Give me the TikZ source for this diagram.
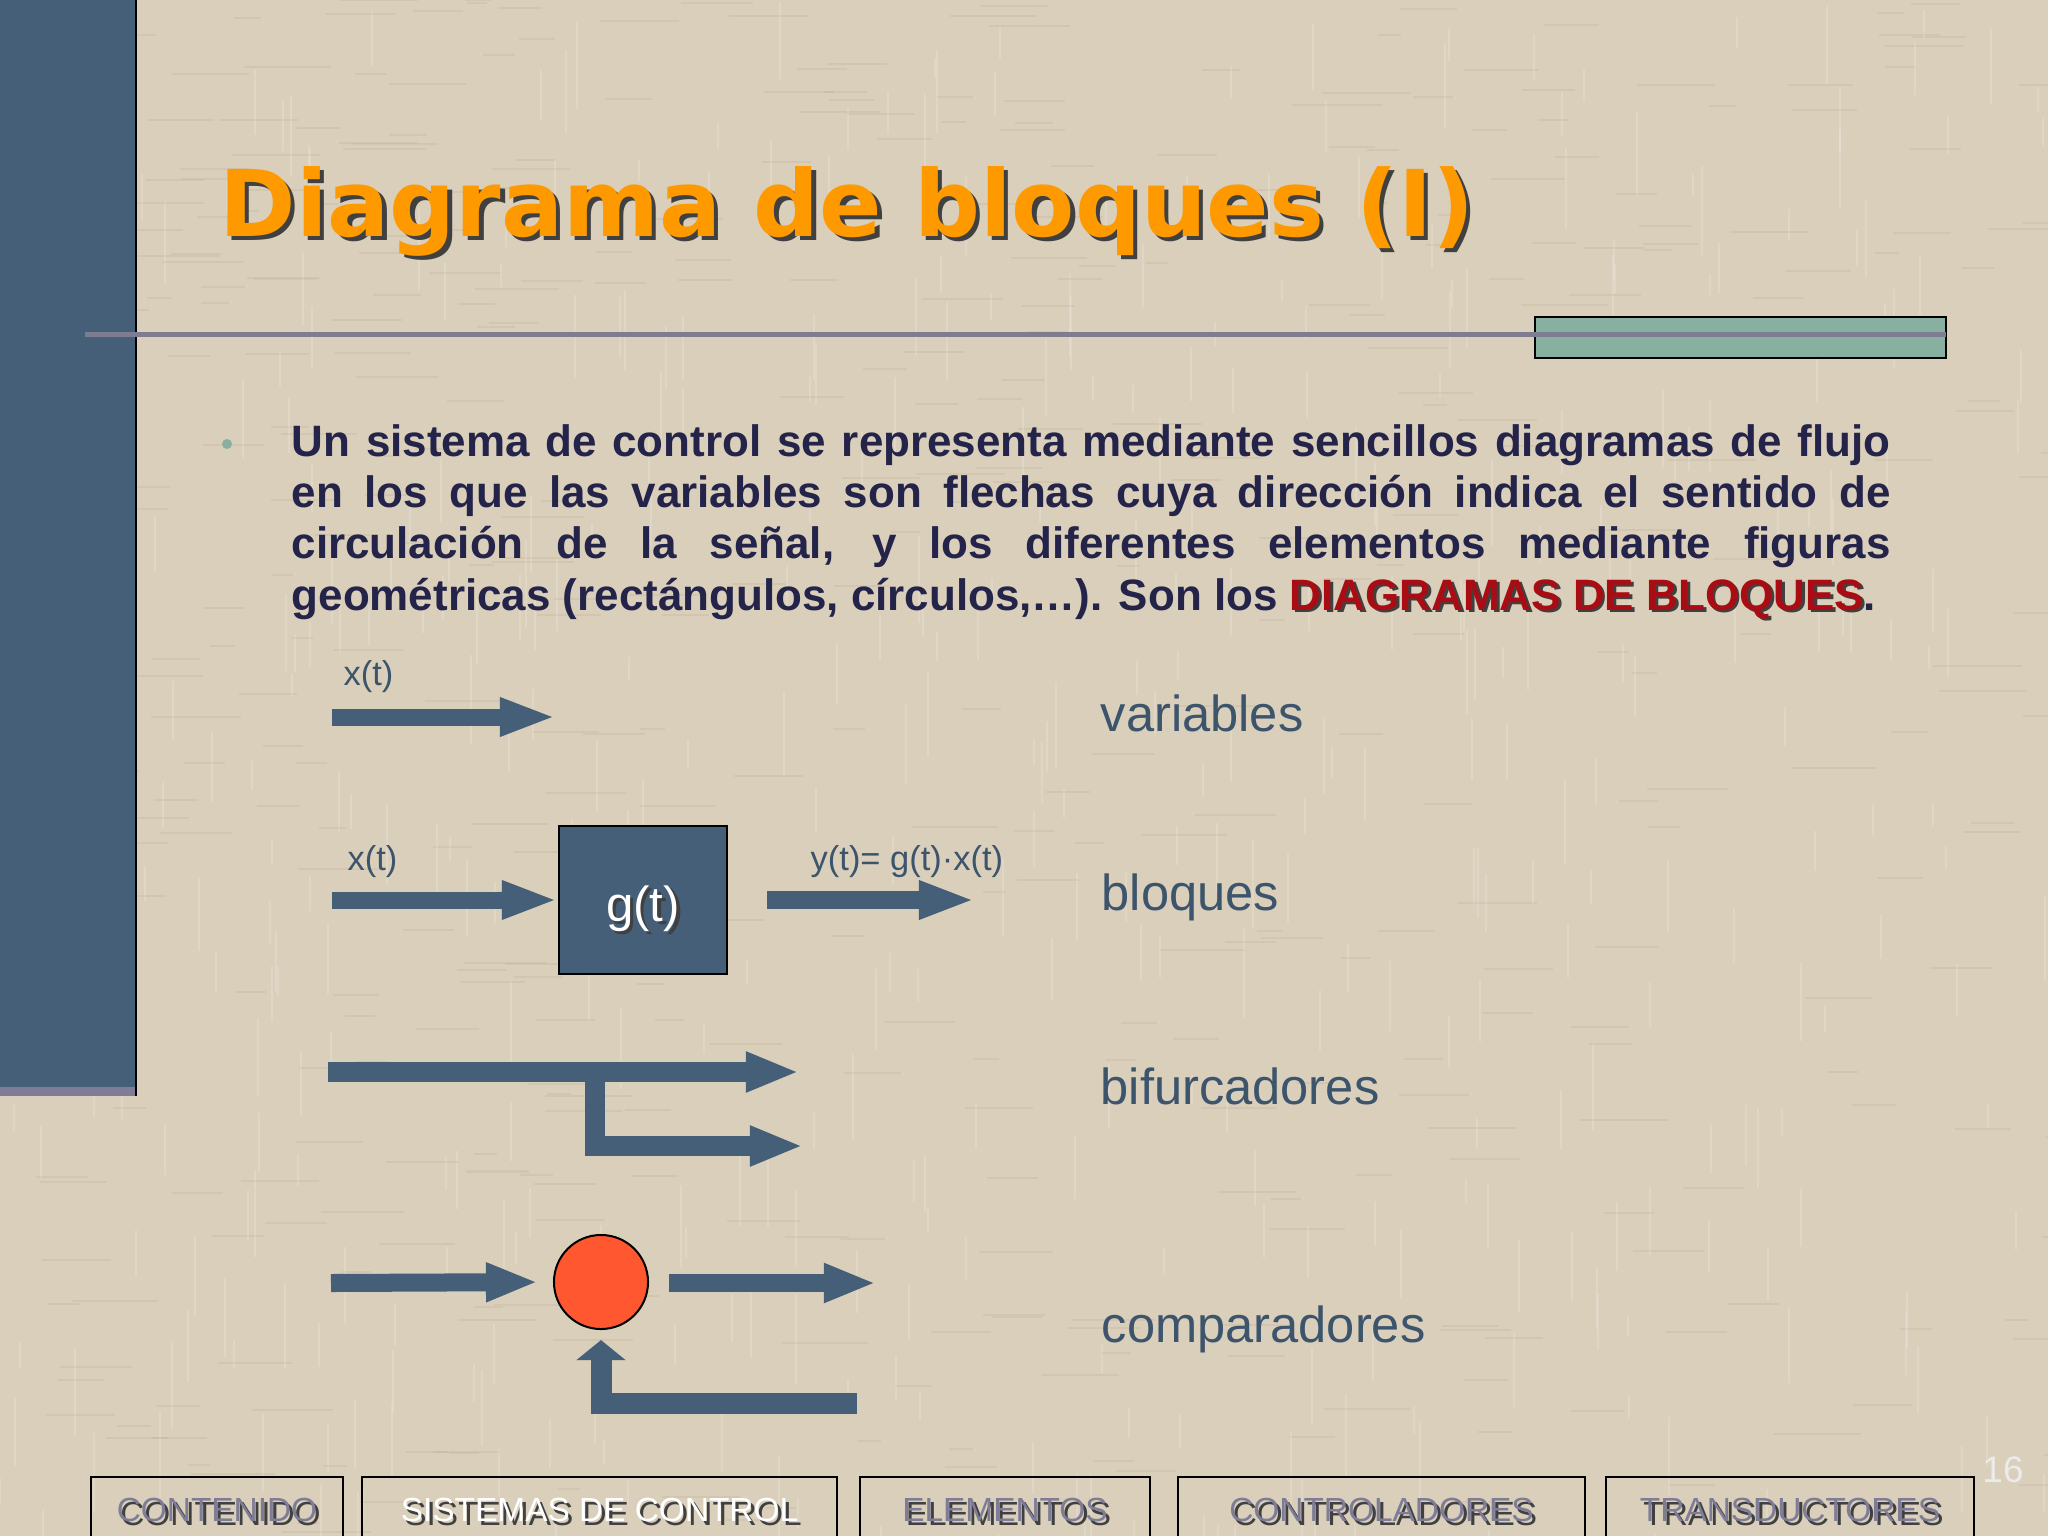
\documentclass[tikz,border=0pt]{standalone}
\usepackage{fontspec}
\setmainfont{Liberation Sans}
\newfontfamily\titlefont{DejaVu Sans}
\usetikzlibrary{arrows.meta,positioning}
\definecolor{fondo}{RGB}{218,207,186}
\definecolor{pizarra}{RGB}{69,95,120}
\definecolor{malva}{RGB}{126,124,150}
\definecolor{salvia}{RGB}{136,176,160}
\definecolor{regla}{RGB}{125,124,145}
\definecolor{naranja}{RGB}{255,153,0}
\definecolor{tinta}{RGB}{36,36,74}
\definecolor{granate}{RGB}{170,12,20}
\definecolor{azultexto}{RGB}{60,84,108}
\definecolor{rojo}{RGB}{255,88,48}
\definecolor{trama}{RGB}{160,145,120}
\newcommand{\sombra}[3]{\makebox[0pt][l]{\kern#1\raisebox{-#1}{\textcolor{black!75}{#3}}}\textcolor{#2}{#3}}
\tikzset{
  senal/.style={draw=pizarra, line width=0.18cm, -{Triangle[length=0.56cm,width=0.35cm]}},
  bloque/.style={draw=black, line width=0.02cm, fill=pizarra, minimum width=1.68cm, minimum height=1.47cm,
    text height=0.52cm, text depth=0.1cm, font=\fontsize{14}{16}\selectfont},
  comparador/.style={circle, draw=black, line width=0.02cm, fill=rojo, minimum size=0.94cm, inner sep=0},
  etiq/.style={inner sep=0, anchor=base west, text=azultexto, font=\fontsize{9.8}{12}\selectfont},
  tipo/.style={inner sep=0, anchor=base west, text=azultexto, font=\fontsize{14.4}{17}\selectfont},
  menu/.style={inner sep=0, font=\fontsize{9.5}{11}\selectfont}
}
\begin{document}
\begin{tikzpicture}[x=0.01cm,y=-0.01cm]
\useasboundingbox (0,0) rectangle (2048,1536);
\clip (0,0) rectangle (2048,1536);
\fill[fondo] (0,0) rectangle (2048,1536);
% trama del fondo
\pgfmathsetseed{7}
\foreach \i in {1,...,450}{
  \pgfmathsetmacro{\px}{rnd*2048}
  \pgfmathsetmacro{\py}{rnd*1536}
  \pgfmathsetmacro{\pl}{20+rnd*70}
  \draw[white, opacity=0.16, line width=0.02cm] (\px,\py) -- ++(0,\pl);
  \draw[trama, opacity=0.13, line width=0.02cm] ({mod(\py*1.7,2048)},{mod(\px*0.9,1536)}) -- ++(\pl,0);
}

% barra lateral
\fill[pizarra] (0,0) rectangle (136,1087);
\fill[malva] (0,1087) rectangle (136,1096);
\draw[line width=0.02cm] (136,0) -- (136,1096);

% titulo
\node[anchor=base west, inner sep=0] (titulo) at (219,236)
  {\titlefont\bfseries\fontsize{26.2}{30}\selectfont\sombra{1.2pt}{naranja}{Diagrama de bloques (I)}};
\draw[fill=salvia, line width=0.025cm] (1535,317) rectangle (1946,358);
\draw[regla, line width=0.05cm] (85,334) -- (1946,334);

% texto
\fill[salvia] (227,444) circle (0.05cm);
\node[anchor=base west, inner sep=0, text=tinta] (texto) at (291,456)
  {\parbox[t]{15.98cm}{\fontsize{12.5}{14.6}\selectfont\bfseries\tolerance=10000\hyphenpenalty=10000
  Un sistema de control se representa mediante sencillos diagramas de flujo\linebreak
  en los que las variables son flechas cuya dirección indica el sentido de\linebreak
  circulación de la señal, y los diferentes elementos mediante figuras\linebreak
  geométricas (rectángulos, círculos,…). Son los \sombra{0.8pt}{granate}{DIAGRAMAS DE BLOQUES}.}};

% variables
\coordinate (varA) at (332,717);
\coordinate (varB) at (556,717);
\draw[senal, line width=0.17cm] (varA) -- (varB);
\node[etiq] (lx1) at (343,685) {x(t)};
\node[tipo] (variables) at (1100,731) {variables};

% bloques
\node[bloque] (blk) at (643,900) {\sombra{1pt}{white}{g(t)}};
\coordinate (inA) at (332,900);
\coordinate (outA) at (767,900);
\coordinate (outB) at (975,900);
\draw[senal, line width=0.17cm] (inA) -- (blk.west);
\draw[senal] (outA) -- (outB);
\node[etiq] (lx2) at (347,870) {x(t)};
\node[etiq] (ly) at (810,870) {y(t)= g(t)·x(t)};
\node[tipo] (bloques) at (1101,910) {bloques};

% bifurcadores
\coordinate (bifA) at (328,1072);
\coordinate (bifB) at (799,1072);
\coordinate (bifP) at (595,1072);
\coordinate (bifC) at (803,1146);
\draw[senal, line width=0.2cm, -{Triangle[length=0.53cm,width=0.37cm]}] (bifA) -- (bifB);
\draw[senal, line width=0.2cm, -{Triangle[length=0.53cm,width=0.37cm]}] (bifP) |- (bifC);
\node[tipo] (bifurcadores) at (1100,1104) {bifurcadores};

% comparadores
\node[comparador] (cmp) at (601,1282) {};
\coordinate (cmpA) at (331,1283);
\coordinate (cmpB) at (876,1283);
\coordinate (fbA) at (857,1403);
\draw[senal, shorten >=0.15cm, -{Triangle[length=0.52cm,width=0.36cm]}] (cmpA) -- (cmp.west);
\draw[senal, shorten <=0.2cm, -{Triangle[length=0.52cm,width=0.36cm]}] (cmp.east |- cmpB) -- (cmpB);
\draw[senal, line width=0.21cm, shorten >=0.1cm, -{Triangle[length=0.2cm,width=0.48cm]}] (fbA) -| (cmp.south);
\node[tipo] (comparadores) at (1101,1342) {comparadores};

% menu inferior
\foreach \a/\b/\t/\c in {91/343/CONTENIDO/malva, 362/837/SISTEMAS DE CONTROL/white,
    860/1150/ELEMENTOS/malva, 1178/1585/CONTROLADORES/malva, 1606/1974/TRANSDUCTORES/malva}{
  \draw[line width=0.025cm] (\a,1560) |- (\b,1477) -- (\b,1560);
  \node[menu] (nav\a) at ({(\a+\b)/2},1512) {\sombra{1pt}{\c}{\t}};
}
\node[text=white!92!black, font=\fontsize{10.5}{12}\selectfont] (pagina) at (2003,1470) {16};
\end{tikzpicture}
\end{document}
